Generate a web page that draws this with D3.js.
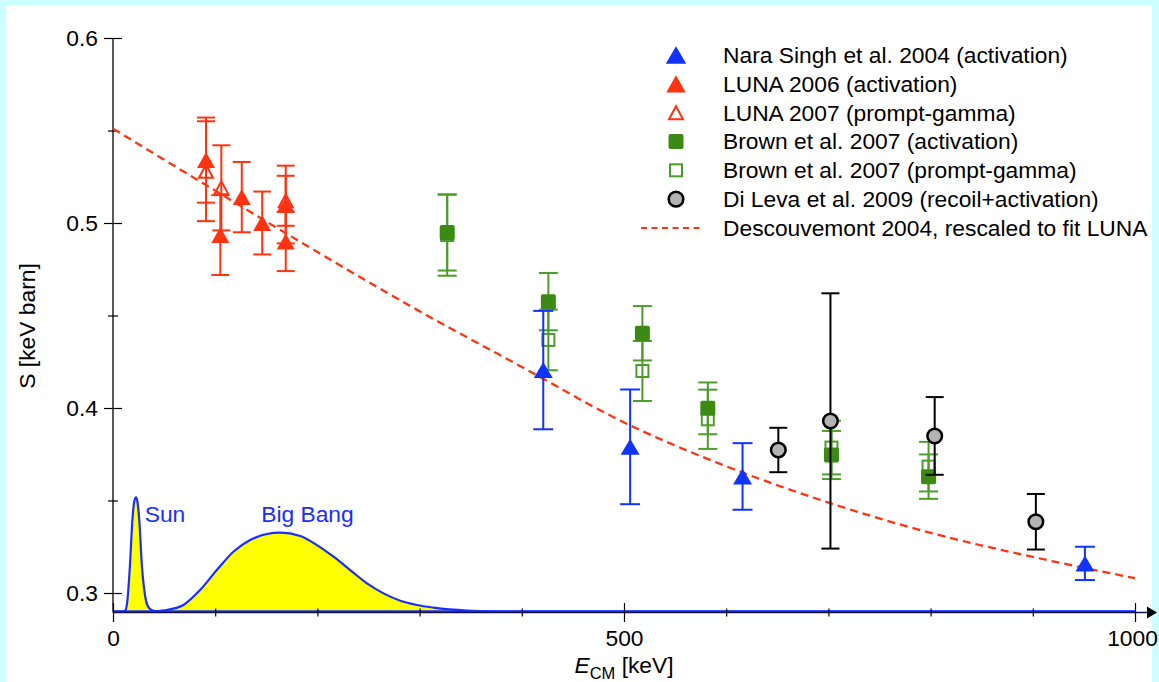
<!DOCTYPE html>
<html>
<head>
<meta charset="utf-8">
<script src="https://cdn.jsdelivr.net/npm/d3@7"></script>
<style>
    body { margin: 0; background: #ccffff; }
    svg { display: block; font-family: "Liberation Sans", Arial, Helvetica, sans-serif; }
</style>
</head>
<body>
<svg id="chart" width="1159" height="682"></svg>
<script>
// --- data (E in keV, S in keV barn, symmetric errors) ---
const naraSingh = [
    { e: 421, s: 0.4205, err: 0.032 },
    { e: 506, s: 0.379, err: 0.031 },
    { e: 616, s: 0.363, err: 0.018 },
    { e: 951, s: 0.316, err: 0.009 }
];
const luna2006 = [
    { e: 91, s: 0.534, err: 0.023 },
    { e: 105, s: 0.4935, err: 0.0216 },
    { e: 126, s: 0.514, err: 0.019 },
    { e: 146, s: 0.500, err: 0.017 },
    { e: 169, s: 0.510, err: 0.021 },
    { e: 169, s: 0.490, err: 0.016 }
];
const luna2007 = [
    { e: 91, s: 0.528, err: 0.027 },
    { e: 106, s: 0.519, err: 0.023 },
    { e: 169, s: 0.512, err: 0.0135 }
];
const brownAct = [
    { e: 327, s: 0.4948, err: 0.0205 },
    { e: 426, s: 0.4575, err: 0.0155 },
    { e: 518, s: 0.4404, err: 0.0147 },
    { e: 582, s: 0.3998, err: 0.014 },
    { e: 703, s: 0.3746, err: 0.013 },
    { e: 798, s: 0.3629, err: 0.012 }
];
const brownPG = [
    { e: 327, s: 0.4935, err: 0.022 },
    { e: 426, s: 0.4368, err: 0.0164 },
    { e: 518, s: 0.420, err: 0.0162 },
    { e: 582, s: 0.3939, err: 0.016 },
    { e: 703, s: 0.3786, err: 0.0145 },
    { e: 798, s: 0.3683, err: 0.0134 }
];
const diLeva = [
    { e: 651, s: 0.3773, err: 0.012 },
    { e: 702, s: 0.393, err: 0.069 },
    { e: 804, s: 0.3849, err: 0.021 },
    { e: 903, s: 0.3385, err: 0.015 }
];

// Descouvemont 2004 curve (rescaled)
const descE = [0, 100, 200, 300, 400, 500, 600, 700, 800, 900, 1000];
const descS = [0.551, 0.5175, 0.4843, 0.4523, 0.4222, 0.3922, 0.3685, 0.3489, 0.3325, 0.3195, 0.308];

// Gamow windows (arbitrary units, drawn on the S scale above the baseline)
const sunE = [0, 10, 12, 14, 16.7, 18.9, 21, 22.5, 24, 25.8, 28.1, 31, 33, 36, 41];
const sunS = [0.29, 0.29, 0.2905, 0.2955, 0.316, 0.3388, 0.350, 0.3517, 0.349, 0.3388, 0.3162, 0.300, 0.2944, 0.2915, 0.2902];
const bbE = [41, 52.6, 68.9, 85.2, 101.6, 117.8, 134.2, 150.5, 163.6, 183.2, 199.5, 215.8, 232.1, 248.5, 264.7, 281.1, 297.4, 313.7, 346.4, 379, 450, 1000];
const bbS = [0.2902, 0.2908, 0.2935, 0.3016, 0.3124, 0.3223, 0.3286, 0.3319, 0.3326, 0.3308, 0.3259, 0.3196, 0.3124, 0.3052, 0.2998, 0.2958, 0.2935, 0.2921, 0.2905, 0.2900, 0.29, 0.29];

const baseS = 0.29;
const xMajor = [0, 500, 1000];
const xMinor = [100, 200, 300, 400, 600, 700, 800, 900];
const yMajor = [0.3, 0.4, 0.5, 0.6];
const yMinor = [0.35, 0.45, 0.55];

const legendLabels = [
    "Nara Singh et al. 2004 (activation)",
    "LUNA 2006 (activation)",
    "LUNA 2007 (prompt-gamma)",
    "Brown et al. 2007 (activation)",
    "Brown et al. 2007 (prompt-gamma)",
    "Di Leva et al. 2009 (recoil+activation)",
    "Descouvemont 2004, rescaled to fit LUNA"
];

// --- colours ---
const BLUE = "#1133ff", RED = "#ff3311", GREEN = "#3a8a14", LGREEN = "#4c9c2c",
      GRAY = "#b3b3b3", YELLOW = "#ffff00", GBLUE = "#1a2eff";
const FS = 22.8; // font size used throughout

const svg = d3.select("#chart");

// white panel
svg.append("rect").attr("x", 6).attr("y", 5).attr("width", 1146).attr("height", 677).attr("fill", "#fff");

const x = d3.scaleLinear().domain([0, 1000]).range([113, 1135]);
const y = d3.scaleLinear().domain([0.3, 0.6]).range([593, 38]);

// Gamow peaks
const area = d3.area().x(d => x(d[0])).y0(y(baseS)).y1(d => y(d[1])).curve(d3.curveMonotoneX);
const line = d3.line().x(d => x(d[0])).y(d => y(d[1])).curve(d3.curveMonotoneX);
const sunPts = d3.zip(sunE, sunS);
const bbPts = d3.zip(bbE, bbS);
[sunPts, bbPts].forEach(pts => {
    svg.append("path").attr("d", area(pts)).attr("fill", YELLOW);
});
svg.append("line").attr("x1", x(0)).attr("x2", x(1000)).attr("y1", y(baseS)).attr("y2", y(baseS))
    .attr("stroke", GBLUE).attr("stroke-width", 2.5);
[sunPts, bbPts].forEach(pts => {
    svg.append("path").attr("d", line(pts)).attr("fill", "none").attr("stroke", GBLUE).attr("stroke-width", 2.2);
});
svg.append("text").attr("x", x(31)).attr("y", y(0.3385)).attr("fill", GBLUE).attr("font-size", FS).text("Sun");
svg.append("text").attr("x", x(145)).attr("y", y(0.3385)).attr("fill", GBLUE).attr("font-size", FS).text("Big Bang");

// axes
const yAxisG = svg.append("g").attr("transform", `translate(${x(0)},0)`)
    .call(d3.axisLeft(y).tickValues(yMajor).tickFormat(d3.format(".1f")).tickSize(0).tickPadding(15));
yAxisG.select(".domain").remove();
yAxisG.selectAll(".tick line").attr("x1", -9).attr("x2", 9).attr("stroke", "#000").attr("stroke-width", 1.2);
yAxisG.selectAll("text").attr("font-size", FS).attr("font-family", "Liberation Sans, Arial, sans-serif").attr("fill", "#000");

const yMinorG = svg.append("g").attr("transform", `translate(${x(0)},0)`)
    .call(d3.axisLeft(y).tickValues(yMinor).tickFormat("").tickSize(0));
yMinorG.select(".domain").remove();
yMinorG.selectAll(".tick line").attr("x1", -5).attr("x2", 5).attr("stroke", "#000").attr("stroke-width", 1.2);

svg.append("line").attr("x1", x(0)).attr("x2", x(0)).attr("y1", y(0.6)).attr("y2", y(baseS) + 1)
    .attr("stroke", "#000").attr("stroke-width", 1.3);

const axisY = y(baseS) + 1;
const xAxisG = svg.append("g").attr("transform", `translate(0,${axisY})`)
    .call(d3.axisBottom(x).tickValues(xMajor).tickFormat(d3.format("d")).tickSize(0).tickPadding(17));
xAxisG.select(".domain").remove();
xAxisG.selectAll(".tick line").attr("y1", -9.5).attr("y2", 9.5).attr("stroke", "#000").attr("stroke-width", 1.2);
xAxisG.selectAll("text").attr("font-size", FS).attr("font-family", "Liberation Sans, Arial, sans-serif").attr("fill", "#000");
// last label sits against the right edge; nudge it so it stays inside the page
xAxisG.selectAll("text").filter(d => d === 1000).attr("dx", -3);

const xMinorG = svg.append("g").attr("transform", `translate(0,${axisY})`)
    .call(d3.axisBottom(x).tickValues(xMinor).tickFormat("").tickSize(0));
xMinorG.select(".domain").remove();
xMinorG.selectAll(".tick line").attr("y1", -4).attr("y2", 4).attr("stroke", "#000").attr("stroke-width", 1.2);

svg.append("line").attr("x1", x(0)).attr("x2", 1150).attr("y1", axisY).attr("y2", axisY)
    .attr("stroke", "#111144").attr("stroke-width", 1.4);

// axis titles
svg.append("text").attr("transform", "translate(35,326) rotate(-90)").attr("text-anchor", "middle")
    .attr("font-size", FS).text("S [keV barn]");
const xt = svg.append("text").attr("x", x(500)).attr("y", 673).attr("text-anchor", "middle").attr("font-size", FS);
xt.append("tspan").attr("font-style", "italic").text("E");
xt.append("tspan").attr("font-size", 16.5).attr("dy", 6).text("CM");
xt.append("tspan").attr("dy", -6).text(" [keV]");

// Descouvemont curve
const descLine = d3.line().x(d => x(d[0])).y(d => y(d[1])).curve(d3.curveMonotoneX);
svg.append("path").attr("d", descLine(d3.zip(descE, descS)))
    .attr("fill", "none").attr("stroke", RED).attr("stroke-width", 2.3).attr("stroke-dasharray", "8,5");

// marker shapes
const triPath = (w, h) => `M0,${-h / 2}L${w / 2},${h / 2}L${-w / 2},${h / 2}Z`;

function errorBars(data, color, cap) {
    const g = svg.append("g").attr("stroke", color).attr("stroke-width", 2).attr("fill", "none");
    data.forEach(d => {
        const cx = x(d.e), top = y(d.s + d.err), bot = y(d.s - d.err);
        g.append("line").attr("x1", cx).attr("x2", cx).attr("y1", top).attr("y2", bot);
        g.append("line").attr("x1", cx - cap / 2).attr("x2", cx + cap / 2).attr("y1", top).attr("y2", top);
        g.append("line").attr("x1", cx - cap / 2).attr("x2", cx + cap / 2).attr("y1", bot).attr("y2", bot);
    });
}

function drawMarker(g, kind, cx, cy, legend) {
    const k = legend ? 1.08 : 1;
    if (kind === "blueTri") {
        g.append("path").attr("d", triPath(19 * k, 16 * k)).attr("transform", `translate(${cx},${cy})`).attr("fill", BLUE);
    } else if (kind === "redTri") {
        g.append("path").attr("d", triPath(18 * k, 16 * k)).attr("transform", `translate(${cx},${cy})`).attr("fill", RED);
    } else if (kind === "redOpen") {
        g.append("path").attr("d", triPath(14, 13)).attr("transform", `translate(${cx},${cy})`)
            .attr("fill", "none").attr("stroke", RED).attr("stroke-width", 2);
    } else if (kind === "greenSq") {
        g.append("rect").attr("x", cx - 7.5).attr("y", cy - 7.5).attr("width", 15).attr("height", 15).attr("rx", 2)
            .attr("fill", GREEN);
    } else if (kind === "greenOpen") {
        g.append("rect").attr("x", cx - 6).attr("y", cy - 6).attr("width", 12).attr("height", 12)
            .attr("fill", "none").attr("stroke", LGREEN).attr("stroke-width", 2);
    } else if (kind === "circle") {
        g.append("circle").attr("cx", cx).attr("cy", cy).attr("r", 7.3)
            .attr("fill", GRAY).attr("stroke", "#000").attr("stroke-width", 2.5);
    }
}

function points(data, kind) {
    const g = svg.append("g");
    data.forEach(d => drawMarker(g, kind, x(d.e), y(d.s), false));
}

errorBars(brownPG, LGREEN, 19);
errorBars(brownAct, LGREEN, 19);
points(brownPG, "greenOpen");
points(brownAct, "greenSq");
errorBars(luna2007, RED, 18);
errorBars(luna2006, RED, 18);
points(luna2007, "redOpen");
points(luna2006, "redTri");
errorBars(naraSingh, BLUE, 20);
points(naraSingh, "blueTri");
errorBars(diLeva, "#000", 18);
points(diLeva, "circle");

// legend
const legendKinds = ["blueTri", "redTri", "redOpen", "greenSq", "greenOpen", "circle", "dash"];
const lg = svg.append("g");
legendLabels.forEach((label, i) => {
    const ly = 55 + i * 28.83;
    if (legendKinds[i] === "dash") {
        lg.append("line").attr("x1", 641).attr("x2", 704).attr("y1", ly).attr("y2", ly)
            .attr("stroke", RED).attr("stroke-width", 2).attr("stroke-dasharray", "6,4.5");
    } else {
        drawMarker(lg, legendKinds[i], 676, ly, true);
    }
    lg.append("text").attr("x", 723).attr("y", ly + 8).attr("font-size", FS).text(label);
});

// axis arrow, reaching into the right margin
svg.append("path").attr("d", `M1147,${axisY - 6}L1157,${axisY}L1147,${axisY + 6}Z`).attr("fill", "#000");
</script>
</body>
</html>
